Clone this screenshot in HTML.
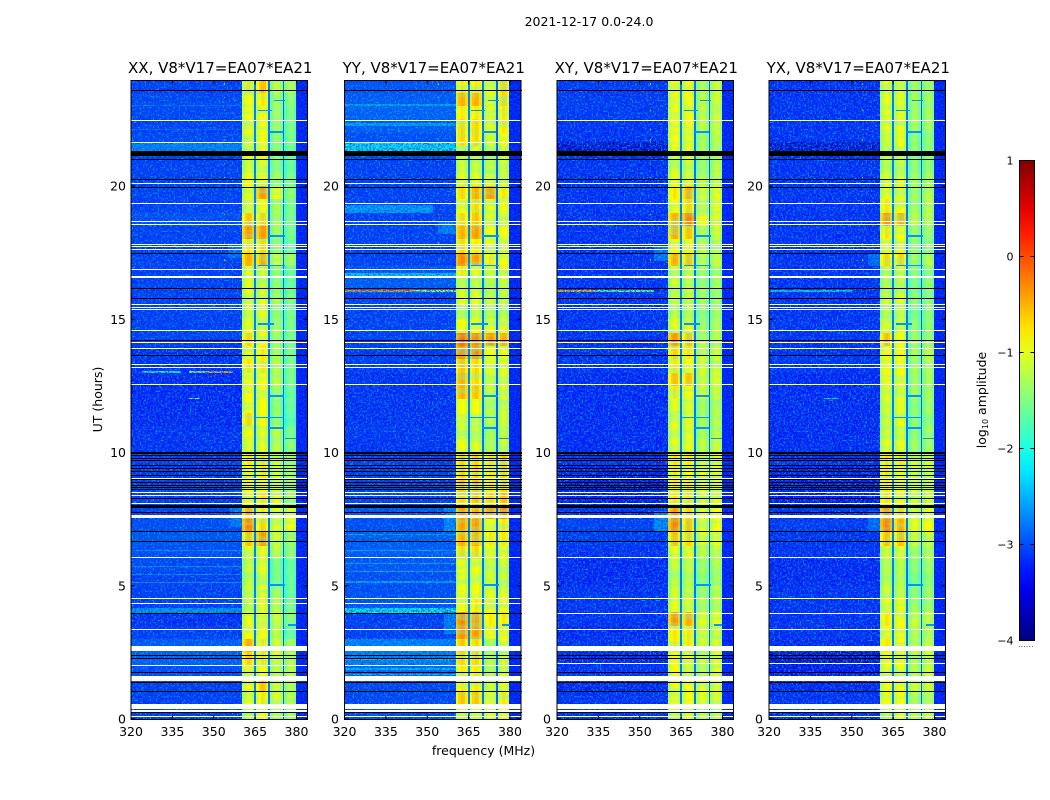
<!DOCTYPE html>
<html lang="en">
<head>
<meta charset="utf-8">
<title>2021-12-17 0.0-24.0</title>
<style>
html,body{margin:0;padding:0;background:#fff;width:1050px;height:800px;overflow:hidden}
svg{display:block}
text{font-family:"DejaVu Sans","Liberation Sans",sans-serif;fill:#000}
</style>
</head>
<body>
<svg id="chart" xmlns="http://www.w3.org/2000/svg" width="1050" height="800" viewBox="0 0 1050 800">
<defs>
<filter id="speckle-light" x="0" y="0" width="100%" height="100%">
<feTurbulence type="fractalNoise" baseFrequency="0.62 0.55" numOctaves="1" seed="4"/>
<feColorMatrix values="0 0 0 0 0  0 0 0 0 0.5  0 0 0 0 1  7 0 0 0 -3.6"/>
</filter>
<filter id="speckle-dark" x="0" y="0" width="100%" height="100%">
<feTurbulence type="fractalNoise" baseFrequency="0.6 0.58" numOctaves="1" seed="11"/>
<feColorMatrix values="0 0 0 0 0  0 0 0 0 0.08  0 0 0 0 0.72  7 0 0 0 -3.2"/>
</filter>
<filter id="band-streaks" x="0" y="0" width="100%" height="100%">
<feTurbulence type="fractalNoise" baseFrequency="0.035 0.2" numOctaves="2" seed="7"/>
<feColorMatrix values="0 0 0 0 0.2  0 0 0 0 0.95  0 0 0 0 0.55  6 0 0 0 -2.7"/>
</filter>
<linearGradient id="jet-gradient" x1="0" y1="1" x2="0" y2="0"></linearGradient>
</defs>
<text x="589" y="26" font-size="12.5" text-anchor="middle">2021-12-17 0.0-24.0</text>
<text x="483.5" y="755" font-size="12.5" text-anchor="middle">frequency (MHz)</text>
<text x="0" y="0" font-size="12.5" text-anchor="middle" transform="translate(102 399.5) rotate(-90)">UT (hours)</text>
<text x="0" y="0" font-size="12.5" text-anchor="middle" transform="translate(986 400) rotate(-90)">log<tspan font-size="8" dy="2">10</tspan><tspan dy="-2"> amplitude</tspan></text>
<text x="1026" y="647" font-size="7" text-anchor="middle" fill="#555" letter-spacing="0.4">......</text>
</svg>
<script>
// Chart data: log10 amplitude per half-hour row, starting at UT 0
const xxBg=[-3.15,-3.15,-3.15,-3.05,-2.9,-2.95,-3.15,-3.25,-3.15,-3.15,-3.15,-3.1,-3.05,-3.0,-3.05,-3.15,-3.15,-3.15,-3.2,-3.15,-3.25,-3.25,-3.3,-3.3,-3.3,-3.3,-3.25,-3.25,-3.15,-3.15,-3.15,-3.15,-3.15,-3.15,-3.15,-3.15,-3.15,-3.05,-3.15,-3.15,-3.15,-3.15,-3.15,-3.1,-3.15,-3.1,-3.1,-3.15];
const xxA=[-1.2,-1.0,-0.9,-0.9,-0.7,-0.5,-0.9,-1.0,-1.1,-1.1,-1.2,-1.1,-1.0,-0.6,-0.3,-0.5,-0.9,-0.9,-0.9,-0.8,-1.0,-0.9,-0.7,-0.9,-0.9,-0.9,-0.8,-1.0,-0.7,-1.0,-1.1,-1.0,-1.0,-1.0,-0.5,-0.8,-0.4,-0.6,-0.9,-1.0,-0.9,-1.1,-1.0,-1.0,-0.9,-0.9,-0.9,-0.8];
const xxB=[-0.9,-0.8,-0.6,-0.9,-0.8,-0.8,-0.9,-0.9,-1,-1,-1.1,-1,-1,-0.4,-0.7,-0.8,-0.8,-0.9,-0.8,-0.8,-1,-1,-0.9,-0.9,-0.9,-0.9,-0.8,-0.8,-0.9,-1,-1,-1,-1.1,-1.1,-0.5,-0.7,-0.4,-0.7,-0.9,-0.4,-0.9,-1,-0.9,-0.9,-0.9,-0.9,-0.8,-0.6];
const xxC=[-1.2,-1.0,-1.1,-1.1,-1.0,-1.1,-1.2,-1.1,-1.2,-1.3,-1.5,-1.5,-1.2,-1.1,-1.0,-1.0,-1.0,-1.1,-1.1,-1.1,-1.2,-1.2,-1.4,-1.4,-1.3,-1.2,-1.2,-1.3,-1.3,-1.3,-1.4,-1.3,-1.4,-1.4,-1.1,-1.4,-1.3,-1.3,-1.3,-0.9,-1.3,-1.4,-1.4,-1.4,-1.3,-1.3,-1.3,-1.2];
const xxD=[-1.3,-1.2,-1.2,-1.2,-1.2,-1.3,-1.6,-1.4,-1.5,-1.6,-1.6,-1.6,-1.4,-1.3,-0.9,-1.0,-1.3,-1.3,-1.3,-1.3,-1.4,-1.5,-1.7,-1.6,-1.6,-1.5,-1.5,-1.5,-1.5,-1.5,-1.5,-1.5,-1.6,-1.6,-1.3,-1.6,-1.5,-1.5,-1.5,-1.4,-1.5,-1.6,-1.6,-1.5,-1.5,-1.5,-1.4,-1.2];

const yyBg=[-3.1,-3.1,-3.1,-2.85,-2.7,-2.7,-3.15,-3.15,-3.0,-3.05,-3.05,-3.0,-2.95,-2.95,-3.05,-3.0,-3.1,-3.15,-3.15,-3.15,-3.25,-3.2,-3.25,-3.25,-3.25,-3.25,-3.2,-3.2,-3.15,-3.15,-3.15,-3.15,-2.95,-3.0,-3.15,-3.15,-3.15,-3.15,-3.15,-3.15,-3.15,-3.15,-3.1,-3.05,-2.95,-2.9,-2.95,-3.0];
const yyA=[-1.0,-0.6,-0.8,-0.8,-0.7,-0.6,-0.35,-0.3,-0.9,-0.9,-1.0,-0.9,-0.7,-0.5,-0.4,-0.4,-0.7,-0.6,-0.7,-0.7,-0.9,-1.1,-0.9,-0.9,-0.5,-0.5,-0.6,-0.3,-0.2,-0.9,-1.2,-1.0,-1.1,-0.8,-0.3,-0.7,-0.5,-0.7,-0.9,-0.7,-1.0,-1.1,-1.1,-0.7,-0.7,-0.8,-0.5,-0.8];
const yyB=[-0.9,-0.6,-0.8,-0.8,-0.7,-0.7,-0.4,-0.4,-0.8,-0.9,-1.0,-0.9,-0.7,-0.5,-0.4,-0.5,-0.6,-0.6,-0.7,-0.7,-1.0,-1.1,-1.0,-0.9,-0.6,-0.7,-0.7,-0.3,-0.3,-0.9,-1.1,-1.0,-1.1,-1.0,-0.4,-0.8,-0.4,-0.6,-0.7,-0.5,-1.0,-1.1,-1.0,-0.7,-0.7,-0.8,-0.5,-0.8];
const yyC=[-1.0,-0.9,-1.1,-1.2,-1.2,-1.3,-0.9,-0.8,-0.9,-1.0,-1.1,-1.1,-1.0,-0.8,-0.9,-0.4,-0.7,-0.8,-0.8,-0.8,-1.2,-1.3,-1.2,-1.2,-1.1,-1.1,-1.0,-0.9,-0.4,-1.0,-1.2,-1.1,-1.2,-1.1,-0.8,-1.0,-0.9,-1.0,-1.0,-0.4,-1.0,-1.2,-1.2,-1.1,-1.0,-1.0,-1.0,-1.0];
const yyD=[-0.9,-0.8,-1.0,-1.0,-1.1,-1.0,-0.9,-0.8,-0.9,-1.0,-1.1,-1.1,-1.0,-0.8,-0.8,-0.3,-0.6,-0.7,-0.7,-0.7,-1.1,-1.2,-1.1,-1.1,-1.0,-1.0,-1.0,-0.9,-0.5,-1.0,-1.2,-1.1,-1.1,-1.0,-0.9,-1.0,-0.9,-1.0,-0.9,-0.8,-1.0,-1.1,-1.1,-0.9,-0.8,-0.8,-0.7,-0.7];

const xyBg=[-3.25,-3.25,-3.3,-3.25,-3.3,-3.25,-3.3,-3.25,-3.25,-3.25,-3.3,-3.3,-3.25,-3.2,-3.15,-3.25,-3.35,-3.35,-3.35,-3.25,-3.3,-3.3,-3.3,-3.3,-3.3,-3.3,-3.25,-3.25,-3.25,-3.25,-3.25,-3.25,-3.25,-3.25,-3.25,-3.25,-3.25,-3.25,-3.25,-3.25,-3.25,-3.25,-3.25,-3.25,-3.25,-3.2,-3.2,-3.2];
const xyA=[-1.1,-0.9,-0.9,-0.9,-0.9,-0.8,-0.8,-0.4,-1,-1.1,-1.2,-1.1,-1,-0.6,-0.3,-0.4,-0.8,-0.8,-0.8,-0.8,-1,-1,-1,-1,-0.8,-0.6,-0.8,-0.7,-0.4,-1,-1.2,-1.1,-1.1,-1.1,-0.5,-0.9,-0.5,-0.5,-0.9,-0.8,-1,-1.1,-1,-0.9,-0.9,-0.9,-0.9,-0.9];
const xyB=[-1,-0.9,-0.9,-1,-0.9,-0.8,-0.8,-0.5,-1,-1.1,-1.2,-1.1,-1,-0.7,-0.6,-0.7,-0.8,-0.8,-0.9,-0.8,-1,-1,-1,-1,-0.9,-0.6,-0.9,-0.8,-0.6,-1,-1.2,-1.1,-1.1,-1.1,-0.6,-0.9,-0.6,-0.3,-0.7,-0.5,-1,-1.1,-1,-1,-0.9,-0.9,-0.9,-0.9];
const xyC=[-1.2,-1,-1,-1.1,-1.1,-1.1,-1,-1,-1.2,-1.3,-1.4,-1.3,-1.2,-1,-1,-1,-1,-1,-1,-1,-1.2,-1.3,-1.3,-1.3,-1.1,-1.1,-1.1,-1.1,-1.2,-1.3,-1.4,-1.3,-1.3,-1.3,-1.1,-1.2,-1.2,-0.9,-1.1,-1,-1.2,-1.3,-1.3,-1.3,-1.2,-1.2,-1.2,-1.2];
const xyD=[-1.2,-1,-1,-1,-1,-1,-1.1,-1,-1.2,-1.2,-1.3,-1.2,-1.1,-1,-0.9,-0.9,-1,-1,-1,-1,-1.1,-1.2,-1.2,-1.2,-1.1,-1,-1.1,-1.1,-1.2,-1.2,-1.3,-1.3,-1.3,-1.3,-1.1,-1.2,-1.1,-1,-1,-1,-1.1,-1.2,-1.2,-1.2,-1.1,-1.1,-1.1,-1.1];

const yxBg=[-3.25,-3.25,-3.3,-3.45,-3.6,-3.3,-3.25,-3.25,-3.25,-3.25,-3.3,-3.3,-3.25,-3.25,-3.2,-3.25,-3.35,-3.35,-3.35,-3.25,-3.3,-3.3,-3.3,-3.3,-3.3,-3.3,-3.25,-3.25,-3.25,-3.25,-3.25,-3.25,-3.25,-3.25,-3.25,-3.25,-3.25,-3.25,-3.25,-3.25,-3.25,-3.25,-3.25,-3.25,-3.25,-3.25,-3.25,-3.25];
const yxA=[-1.2,-0.9,-0.9,-1,-0.9,-0.8,-0.9,-0.8,-1,-1.1,-1.2,-1.2,-1.1,-0.6,-0.3,-0.4,-0.8,-0.8,-0.8,-0.8,-1,-1.1,-1.1,-1.1,-1,-0.9,-0.9,-0.9,-0.6,-1,-1.2,-1.1,-1.2,-1.2,-0.7,-1,-0.8,-0.4,-0.8,-1,-1,-1.2,-1.1,-1.1,-1,-1,-1,-1];
const yxB=[-1,-0.9,-0.9,-1,-0.9,-0.9,-0.9,-0.9,-1,-1.1,-1.2,-1.2,-1,-0.6,-0.5,-0.7,-0.9,-0.9,-0.9,-0.8,-1,-1.1,-1,-1,-1,-0.9,-0.9,-0.9,-0.9,-1,-1.1,-1,-1.1,-1.1,-0.7,-1,-0.9,-0.5,-0.9,-1,-1,-1.1,-1,-1,-1,-1,-1,-1];
const yxC=[-1.2,-1.2,-1.1,-1.2,-1.2,-1.2,-1.2,-1.1,-1.3,-1.4,-1.5,-1.4,-1.3,-1.1,-1,-1.1,-1.1,-1.1,-1.1,-1.1,-1.3,-1.4,-1.4,-1.4,-1.3,-1.3,-1.3,-1.3,-1.3,-1.4,-1.5,-1.4,-1.5,-1.4,-1.3,-1.4,-1.3,-1.2,-1.3,-1.3,-1.3,-1.4,-1.4,-1.4,-1.3,-1.3,-1.3,-1.3];
const yxD=[-1.1,-1.1,-1.1,-1.1,-1.1,-1.1,-1.2,-1.1,-1.3,-1.3,-1.4,-1.3,-1.2,-1.1,-0.9,-1,-1.1,-1.1,-1.1,-1.1,-1.3,-1.3,-1.4,-1.3,-1.3,-1.3,-1.2,-1.2,-1.3,-1.4,-1.4,-1.4,-1.4,-1.4,-1.2,-1.4,-1.3,-1.2,-1.2,-1.2,-1.3,-1.4,-1.4,-1.4,-1.3,-1.3,-1.3,-1.3];

// Spectral windows in MHz
const bandEdges=[[360.4,364.7],[365.5,369.8],[370.5,375],[375.6,379.8]];
const gapEdges=[[364.7,365.5],[369.8,370.5],[375,375.6]];
const gapLevels=[-2.75,-2.8,-2.9];
const rightEdgeLevel=-3.25;
const bandProfile=[-0.25,-0.05,0.05,0,-0.2];

// Flagged times in hours: [UT, duration]
const whiteFlagsCommon=[[22.46,.05],[20.10,.05],[19.35,.05],[18.66,.05],[18.55,.05],[17.82,.05],[17.72,.05],[17.60,.05],[16.87,.05],[16.60,.08],[15.56,.05],[15.45,.05],[15.35,.05],[14.57,.05],[14.13,.05],[13.90,.05],[13.31,.05],[13.20,.05],[12.54,.05],[9.03,.05],[8.49,.05],[8.38,.05],[8.09,.05],[7.59,.1],[6.07,.05],[4.53,.05],[3.34,.05],[2.63,.18],[1.53,.2],[.47,.19],[.30,.06],[.09,.05]];
const whiteFlagsParallel=[[21.64,.05],[4.34,.05],[2.0,.05]];
const whiteFlagsCross=[[3.96,.05],[2.1,.05]];
const blackFlags=[[23.59,.05],[21.22,.19],[20.98,.05],[20.23,.05],[19.94,.05],[17.47,.05],[16.16,.05],[15.79,.05],[14.22,.05],[13.65,.05],[9.99,.06],[9.87,.04],[9.79,.04],[9.69,.04],[9.53,.05],[9.41,.05],[9.28,.05],[9.12,.05],[8.97,.04],[8.87,.04],[8.78,.04],[8.69,.04],[8.62,.04],[8.28,.05],[7.97,.11],[7.74,.05],[7.03,.05],[6.65,.05],[3.94,.05],[2.40,.05],[2.28,.05],[1.74,.05],[1.38,.05],[1.02,.05],[.25,.05]];

// Narrow features: [UT, duration, level, MHz start, MHz end]
const xxFeatures=[[21.25,.35,-2.7,320,360.4],[3.95,.2,-2.6,320,360.4],[13.0,.06,-2,324,338],[13.0,.06,-1.2,341,347],[13.0,.06,-0.4,347,357],[12.0,.06,-1,341,345],[17.3,.5,-2.8,355,360.4],[7.2,.7,-2.75,356,360.4],[5.1,.05,-2.6,320,360.4],[5.4,.05,-2.6,320,360.4],[5.7,.05,-2.6,320,360.4],[6.3,.05,-2.6,320,360.4],[23,.05,-2.8,320,360.4],[22.1,.05,-2.8,320,360.4]];
const yyFeatures=[[21.25,.35,-2.2,320,360.4],[19.0,.3,-2.55,320,352],[16.6,.12,-2.3,320,360.4],[16.03,.07,-0.35,320,345],[16.03,.07,-1.2,345,360.4],[3.95,.22,-2.15,320,360.4],[1.65,.05,-2.4,320,360.4],[1.85,.05,-2.4,320,360.4],[2.2,.05,-2.4,320,360.4],[5.1,.06,-2.5,320,360.4],[5.5,.06,-2.5,320,360.4],[5.8,.06,-2.5,320,360.4],[6.3,.06,-2.5,320,360.4],[6.9,.06,-2.5,320,360.4],[23,.06,-2.5,320,360.4],[22.25,.1,-2.5,320,360.4],[7,.9,-2.65,356,360.4],[3.2,.8,-2.75,356,360.4],[18.2,.5,-2.75,354,360.4]];
const xyFeatures=[[21.3,.35,-3.65,320,360.4],[16.03,.07,-0.5,320,334],[16.03,.07,-1.6,334,355],[7,.8,-2.65,355,360.4],[17.2,.5,-2.75,355,360.4]];
const yxFeatures=[[21.3,.35,-3.65,320,360.4],[16.03,.06,-2.3,320,350],[7,.8,-2.85,356,360.4],[17,.5,-2.85,356,360.4],[12,.05,-2.2,340,345]];

// Blue absorption veins inside the bands: [UT, duration, MHz start, MHz end]
const bandVeins=[[11.3,.05,365.5,375],[12.1,.05,370.5,375.6],[10.9,.05,370,375],[10.5,.05,376,380],[18.1,.05,370,376],[17.0,.05,366,376],[22.8,.05,366,371],[23.2,.04,372,376],[14.8,.05,366,372],[5.0,.05,370,376],[3.5,.06,377,380],[22.0,.05,370,375]];
const veinLevel=-2.65;

// Isolated RFI samples near 353.8 MHz, hours
const rfiHours=[17.2,17.8,18.3,18.9,19.4,20.3,20.8,21.7,22.1,22.8,23.3,23.8];
const rfiFrequency=353.8;
const rfiLevel=-1.2;

const xTickValues=[320,335,350,365,380];
const yTickValues=[0,5,10,15,20];
const colorbarTicks=[1,0,-1,-2,-3,-4];
const colorbarTickLabels=['1','0','\u22121','\u22122','\u22123','\u22124'];
const gradientLevels=[-4,-3.5,-3.25,-3,-2.75,-2.5,-2.25,-2,-1.75,-1.5,-1.25,-1,-0.75,-0.5,-0.25,0,0.25,0.5,0.75,1];

const svg=document.getElementById('chart');
const NS='http://www.w3.org/2000/svg';
function clip(v){return Math.max(0,Math.min(1,v));}
function jet(level){
  const t=clip((level+4)/5);
  const r=clip(1.5-Math.abs(4*t-3)),g=clip(1.5-Math.abs(4*t-2)),b=clip(1.5-Math.abs(4*t-1));
  return 'rgb('+Math.round(r*255)+','+Math.round(g*255)+','+Math.round(b*255)+')';
}
const plotTop=80.5,plotBottom=719.5,pxPerHour=26.65;
function yScale(h){return plotBottom-0.5-h*pxPerHour;}
function xScaleFor(left){return function(f){return left+(f-320)*2.758;};}
function make(tag,attrs,parent){
  const el=document.createElementNS(NS,tag);
  for(const k in attrs)el.setAttribute(k,attrs[k]);
  (parent||svg).appendChild(el);
  return el;
}
const panels=[
 {key:'xx',title:'XX, V8*V17=EA07*EA21',left:131,labelGap:5,bg:xxBg,bands:[xxA,xxB,xxC,xxD],features:xxFeatures,whites:whiteFlagsParallel},
 {key:'yy',title:'YY, V8*V17=EA07*EA21',left:344.5,labelGap:5.5,bg:yyBg,bands:[yyA,yyB,yyC,yyD],features:yyFeatures,whites:whiteFlagsParallel},
 {key:'xy',title:'XY, V8*V17=EA07*EA21',left:557,labelGap:6,bg:xyBg,bands:[xyA,xyB,xyC,xyD],features:xyFeatures,whites:whiteFlagsCross},
 {key:'yx',title:'YX, V8*V17=EA07*EA21',left:769,labelGap:6,bg:yxBg,bands:[yxA,yxB,yxC,yxD],features:yxFeatures,whites:whiteFlagsCross}
];
const axisWidth=176.5;
panels.forEach(function(p){
  const xs=xScaleFor(p.left);
  const right=p.left+axisWidth;
  const g=make('g',{'shape-rendering':'crispEdges'});
  
  
  const cell=function(f0,f1,h0,h1,level){
    const x0=Math.round(xs(f0)),x1=Math.round(Math.min(xs(f1),right));
    const y1=Math.round(yScale(h0)),y0=Math.round(Math.max(yScale(h1),plotTop));
    const el=make('rect',{x:x0,y:y0,width:Math.max(1,x1-x0),height:Math.max(1,y1-y0),fill:jet(level)},g);
    
    
  };
  p.bg.forEach(function(level,i){
    const h0=i*0.5,h1=h0+0.5;
    cell(320,360.4,h0,h1,level);
    p.bands.forEach(function(series,b){
      const e=bandEdges[b],w=(e[1]-e[0])/bandProfile.length;
      bandProfile.forEach(function(off,k){cell(e[0]+k*w,e[0]+(k+1)*w,h0,h1,series[i]+off);});
    });
    gapEdges.forEach(function(e,k){cell(e[0],e[1],h0,h1,gapLevels[k]);});
    cell(379.8,384,h0,h1,rightEdgeLevel);
  });
  p.features.forEach(function(s){cell(s[3],s[4],s[0],s[0]+s[1],s[2]);});

  const leftPx=Math.round(p.left);
  const bandStartPx=Math.round(xs(360.4)),bandEndPx=Math.round(xs(379.8)),rightPx=Math.round(right);
  const streak=make('rect',{x:bandStartPx,y:plotTop,width:bandEndPx-bandStartPx,height:plotBottom-plotTop,fill:'#fff',filter:'url(#band-streaks)',opacity:0.35},g);
  
  
  gapEdges.forEach(function(e,k){cell(e[0],e[1],0,24,gapLevels[k]);});
  bandVeins.forEach(function(v){cell(v[2],v[3],v[0],v[0]+v[1],veinLevel);});
  rfiHours.forEach(function(h){cell(rfiFrequency,rfiFrequency+.35,h,h+.05,rfiLevel);});

  const sp1=make('rect',{x:leftPx,y:plotTop,width:bandStartPx-leftPx,height:plotBottom-plotTop,fill:'#fff',filter:'url(#speckle-light)',opacity:0.75},g);
  
  
  const sp2=make('rect',{x:leftPx,y:plotTop,width:bandStartPx-leftPx,height:plotBottom-plotTop,fill:'#fff',filter:'url(#speckle-dark)',opacity:0.75},g);
  
  
  const sp3=make('rect',{x:bandEndPx,y:plotTop,width:rightPx-bandEndPx,height:plotBottom-plotTop,fill:'#fff',filter:'url(#speckle-dark)',opacity:0.75},g);
  
  

  const flag=function(item,color,name){
    const h=Math.max(1,Math.round(item[1]*pxPerHour));
    const el=make('rect',{x:leftPx,y:Math.round(yScale(item[0])-h/2),width:Math.round(axisWidth),height:h,fill:color},g);
    
    
  };
  blackFlags.forEach(function(f){flag(f,'#000','flagged-black-line');});
  whiteFlagsCommon.forEach(function(f){flag(f,'#fff','flagged-white-line');});
  p.whites.forEach(function(f){flag(f,'#fff','flagged-white-line');});

  const frame=make('rect',{x:p.left,y:plotTop,width:axisWidth,height:plotBottom-plotTop,fill:'none',stroke:'#000','stroke-width':1});
  
  

  xTickValues.forEach(function(v){
    const x=xs(v);
    const t1=make('line',{x1:x,x2:x,y1:plotBottom,y2:plotBottom-4,stroke:'#000'});
    
    
    const t2=make('line',{x1:x,x2:x,y1:plotTop,y2:plotTop+4,stroke:'#000'});
    
    
    const tx=make('text',{x:x,y:736,'font-size':12.5,'text-anchor':'middle'});
    
    
    tx.textContent=String(v);
  });
  yTickValues.forEach(function(v){
    const y=yScale(v);
    const t1=make('line',{x1:p.left,x2:p.left+4,y1:y,y2:y,stroke:'#000'});
    
    
    const t2=make('line',{x1:right,x2:right-4,y1:y,y2:y,stroke:'#000'});
    
    
    const tx=make('text',{x:p.left-p.labelGap,y:y+4.5,'font-size':12.5,'text-anchor':'end'});
    
    
    tx.textContent=String(v);
  });
  const title=make('text',{x:p.left+axisWidth/2+1,y:73,'font-size':15,'text-anchor':'middle'});
  
  
  title.textContent=p.title;
});

// Colorbar
const grad=document.getElementById('jet-gradient');
gradientLevels.forEach(function(l){
  make('stop',{offset:((l+4)/5*100)+'%','stop-color':jet(l)},grad);
});
const cbLeft=1019.5,cbWidth=15,cbTop=160.5,cbHeight=480;
function cbY(level){return cbTop+(1-level)/5*cbHeight;}
const cb=make('rect',{x:cbLeft,y:cbTop,width:cbWidth,height:cbHeight,fill:'url(#jet-gradient)',stroke:'#000','stroke-width':1});


colorbarTicks.forEach(function(v,i){
  const y=cbY(v);
  const a=make('line',{x1:cbLeft,x2:cbLeft+4,y1:y,y2:y,stroke:'#000'});
  
  
  const b=make('line',{x1:cbLeft+cbWidth-4,x2:cbLeft+cbWidth,y1:y,y2:y,stroke:'#000'});
  
  
  const tx=make('text',{x:1013.5,y:y+4,'font-size':11,'text-anchor':'end'});
  
  
  tx.textContent=colorbarTickLabels[i];
});
</script>
</body>
</html>
